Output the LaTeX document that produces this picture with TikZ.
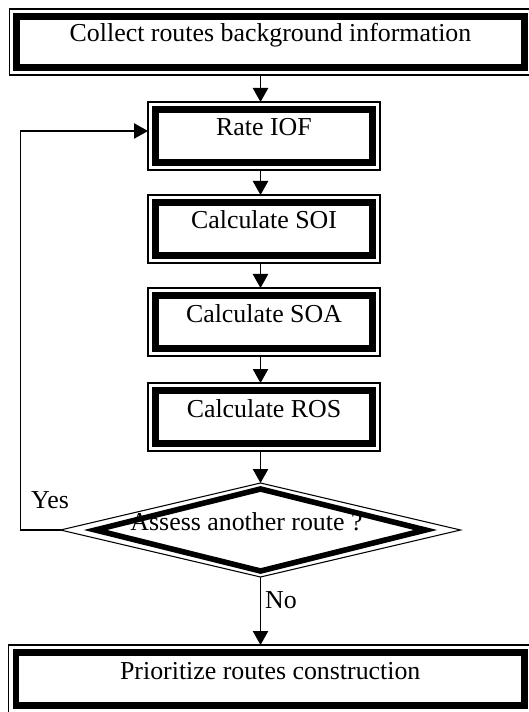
\documentclass[tikz,border=0pt]{standalone}
\usepackage{fontspec}
\setmainfont{Liberation Serif}
\usetikzlibrary{arrows.meta,shapes.geometric}
\tikzset{
	stepbox/.style={draw, line width=5.2pt, outer sep=5.6pt, inner sep=0pt,
		font=\fontsize{19.4}{22}\selectfont, text height=12pt, text depth=12pt},
	decision/.style={shape=diamond, draw, line width=4.2pt, outer sep=0pt, inner sep=0pt,
		minimum width=247.5pt, minimum height=61.5pt,
		font=\fontsize{19.4}{22}\selectfont, text height=12pt, text depth=12pt},
	framebox/.style={line width=0.8pt},
	flow/.style={line width=0.9pt, -{Triangle[length=10.5pt,width=11.5pt]}},
	tag/.style={inner sep=0pt, font=\fontsize{19.4}{22}\selectfont},
}
\begin{document}
\begin{tikzpicture}[x=0.75pt,y=0.75pt,yscale=-1,xscale=1]
	\useasboundingbox (0,0) rectangle (528,712);

	% Boxes
	\node[stepbox, minimum width=380.8pt, minimum height=38.3pt] (collect) at (270.5,42) {Collect routes background information};
	\node[stepbox, minimum width=162.8pt, minimum height=39.8pt] (rate) at (264,136) {Rate IOF};
	\node[stepbox, minimum width=162.8pt, minimum height=39.8pt] (soi) at (264,229) {Calculate SOI};
	\node[stepbox, minimum width=162.8pt, minimum height=39.8pt] (soa) at (264,322) {Calculate SOA};
	\node[stepbox, minimum width=162.8pt, minimum height=39.8pt] (ros) at (264,417) {Calculate ROS};
	\node[stepbox, minimum width=381.4pt, minimum height=39.8pt] (prior) at (270.25,679) {Prioritize routes construction};
	% thin outer frames
	\foreach \n in {collect,rate,soi,soa,ros,prior}
		\draw[framebox] (\n.north west) rectangle (\n.south east);

	% Decision
	\node[decision] (dec) at (260.5,530) {\makebox[0pt]{\kern-21pt Assess another route ?}};
	\coordinate (dec-n) at ([yshift=-4.5pt]dec.north);
	\coordinate (dec-s) at ([yshift=4.5pt]dec.south);
	\coordinate (dec-w) at ([xshift=-26.25pt]dec.west);
	\coordinate (dec-e) at ([xshift=26.25pt]dec.east);
	\draw[framebox] (dec-n) -- (dec-e) -- (dec-s) -- (dec-w) -- cycle;

	% Connectors
	\draw[flow] (collect.south -| dec-n) -- (rate.north -| dec-n);
	\draw[flow] (rate.south -| dec-n) -- (soi.north -| dec-n);
	\draw[flow] (soi.south -| dec-n) -- (soa.north -| dec-n);
	\draw[flow] (soa.south -| dec-n) -- (ros.north -| dec-n);
	\draw[flow] (ros.south -| dec-n) -- (dec-n);
	\draw[flow] (dec-s) -- (prior.north -| dec-s);
	\draw[flow] (dec-w) -- ++(-40,0) |- ([yshift=-3.75pt]rate.west);

	% Text Node
	\node[tag] (yes) at (50,500) {Yes};
	% Text Node
	\node[tag] (no) at (281,600) {No};
\end{tikzpicture}
\end{document}
